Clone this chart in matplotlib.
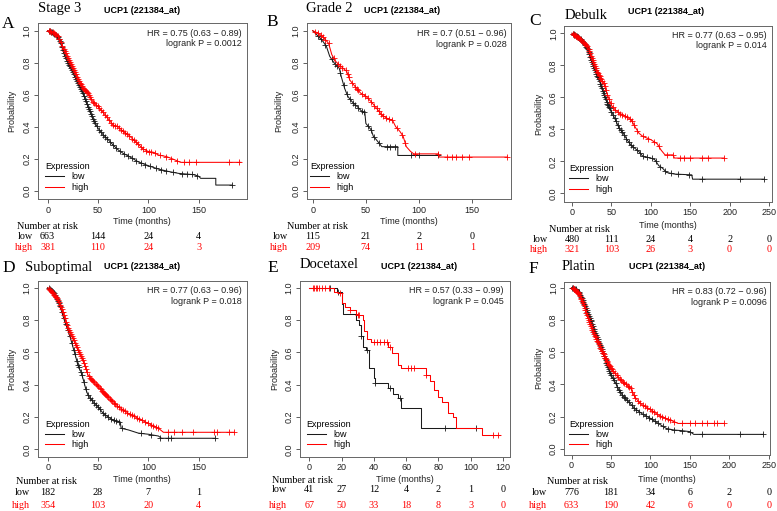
import numpy as np
import matplotlib
matplotlib.use('Agg')
import matplotlib.pyplot as plt
from matplotlib.transforms import blended_transform_factory

plt.rcParams['font.family'] = 'Liberation Sans'

W, H = 777, 511
RED = '#ff0000'
DARK = '#1a1a1a'
SERIF = 'Liberation Serif'
GENE = 'UCP1 (221384_at)'
yticks = [0.0, 0.2, 0.4, 0.6, 0.8, 1.0]

# ---- A: Stage 3
a_low_t = [0, 5, 10, 13, 17, 20, 25, 30, 35, 40, 45, 50, 55, 60, 65, 70, 75, 80, 90, 100, 110, 120, 130, 145, 150, 152, 167, 167, 183]
a_low_s = [1.0, 0.99, 0.96, 0.92, 0.84, 0.80, 0.74, 0.67, 0.61, 0.525, 0.45, 0.39, 0.35, 0.32, 0.285, 0.255, 0.233, 0.217, 0.18, 0.156, 0.135, 0.12, 0.108, 0.10, 0.09, 0.077, 0.077, 0.035, 0.035]
a_low_cens = [1, 2, 3, 4.5, 5.5, 6.5, 8, 9, 10, 11, 12, 13, 14, 15, 16, 17, 18, 19, 20, 21, 22, 23, 24, 25, 26,
              27, 28, 29, 30, 31, 32, 33, 34, 35, 36, 37, 38, 39, 40, 41, 42, 43, 44, 45, 46, 47.5, 49, 51, 53,
              55, 57, 59, 62, 65, 68, 72, 76, 80, 84, 88, 93, 97, 102, 108, 113, 118, 124, 133, 138, 143, 148, 183]
a_high_t = [0, 5, 10, 15, 20, 25, 30, 35, 40, 45, 50, 55, 60, 65, 70, 75, 80, 85, 90, 95, 100, 105, 110, 118, 125, 132, 192]
a_high_s = [1.0, 0.99, 0.965, 0.9, 0.83, 0.765, 0.70, 0.64, 0.61, 0.555, 0.525, 0.49, 0.45, 0.41, 0.40, 0.37, 0.35, 0.32, 0.29, 0.26, 0.245, 0.24, 0.223, 0.213, 0.196, 0.177, 0.177]
a_high_cens = [1.5, 2.5, 3.5, 5, 6, 7, 8.5, 10, 11.5, 13, 14.5, 16, 17, 18, 19, 20, 21, 22, 23, 24, 25, 26, 27,
               28, 29, 30, 31, 32, 33, 34, 35, 36, 37, 38, 39, 40, 41, 42, 43.5, 45, 46.5, 48, 49.5, 51, 53, 55,
               57, 59, 61, 63, 65, 67, 69, 71, 73, 75, 77, 79, 81, 84, 86, 88, 90, 93, 95, 98, 101, 103, 107,
               112, 118, 123, 128, 135, 140, 147, 180, 190]
a_xticks = [0, 50, 100, 150]
a_risk_low = [663, 144, 24, 4]
a_risk_high = [381, 110, 24, 3]

# ---- B: Grade 2
b_low_t = [0, 3, 6, 10, 13, 16, 20, 25, 27, 30, 33, 37, 42, 47, 49, 50, 55, 57, 60, 65, 80, 80, 118]
b_low_s = [1.0, 0.98, 0.96, 0.93, 0.90, 0.84, 0.80, 0.765, 0.71, 0.64, 0.59, 0.556, 0.525, 0.49, 0.49, 0.42, 0.38, 0.34, 0.317, 0.275, 0.275, 0.22, 0.22]
b_low_cens = [5, 8, 12, 18, 21, 23, 26, 29, 32, 35, 38, 40, 43, 46, 48, 52, 55, 58, 62, 70, 73, 77, 92, 100, 118]
b_high_t = [0, 5, 10, 15, 18, 22, 27, 32, 35, 40, 45, 50, 55, 60, 65, 70, 75, 78, 82, 85, 88, 92, 95, 118, 119, 183]
b_high_s = [1.0, 0.985, 0.96, 0.92, 0.85, 0.805, 0.775, 0.745, 0.69, 0.65, 0.61, 0.59, 0.556, 0.515, 0.473, 0.452, 0.44, 0.40, 0.37, 0.34, 0.275, 0.245, 0.23, 0.23, 0.21, 0.21]
b_high_cens = [2, 5, 8, 10, 12, 15, 20, 24, 26, 28, 31, 33, 34, 37, 40, 42, 43, 46, 49, 52, 55, 58, 60, 62, 64,
               66, 69, 72, 75, 79, 84, 87, 96, 118, 126, 131, 135, 140, 147, 183]
b_xticks = [0, 50, 100, 150]
b_risk_low = [115, 21, 2, 0]
b_risk_high = [209, 74, 11, 1]

# ---- C: Debulk
c_low_t = [0, 10, 15, 20, 25, 30, 35, 40, 45, 50, 55, 60, 65, 70, 75, 80, 85, 90, 100, 105, 110, 115, 120, 130, 152, 153, 243]
c_low_s = [1.0, 0.97, 0.94, 0.9, 0.82, 0.76, 0.70, 0.625, 0.56, 0.51, 0.46, 0.405, 0.375, 0.333, 0.30, 0.28, 0.26, 0.23, 0.22, 0.21, 0.173, 0.156, 0.13, 0.12, 0.115, 0.088, 0.088]
c_low_cens = [1, 2, 3, 4, 5, 6, 7, 8, 9, 11, 12, 13, 14, 16, 17, 18, 19, 20, 21, 22, 23, 24, 25, 26, 27, 28, 29,
              30, 31, 32, 33, 34, 35, 36, 37, 38, 39, 40, 41, 42, 43, 44, 45, 46, 47, 48, 50, 52, 54, 56, 58, 60,
              62, 64, 66, 69, 72, 75, 78, 82, 86, 90, 95, 101, 106, 112, 118, 125, 135, 148, 165, 213, 243]
c_high_t = [0, 10, 15, 20, 25, 30, 35, 40, 45, 50, 55, 60, 65, 70, 75, 80, 85, 90, 95, 100, 108, 113, 118, 128, 130, 193]
c_high_s = [1.0, 0.965, 0.94, 0.917, 0.845, 0.78, 0.73, 0.69, 0.615, 0.55, 0.52, 0.50, 0.49, 0.475, 0.46, 0.415, 0.375, 0.355, 0.345, 0.335, 0.31, 0.27, 0.24, 0.24, 0.22, 0.22]
c_high_cens = [1.5, 2.5, 3.5, 4.5, 5.5, 6.5, 7.5, 9, 10.5, 12, 13.5, 15, 16.5, 18, 19.5, 21, 22, 23, 24, 25,
               26, 27, 28, 29, 30, 31, 32, 33, 34, 35, 36, 37, 38.5, 40, 41.5, 43, 45, 47, 49, 52, 55, 58, 61,
               64, 67, 70, 73, 76, 79, 83, 90, 97, 104, 110, 120, 128, 137, 142, 150, 165, 172, 193]
c_xticks = [0, 50, 100, 150, 200, 250]
c_risk_low = [480, 111, 24, 4, 2, 0]
c_risk_high = [321, 103, 26, 3, 0, 0]

# ---- D: Suboptimal
d_low_t = [0, 5, 10, 13, 17, 20, 23, 25, 28, 30, 33, 35, 38, 40, 45, 50, 55, 60, 65, 72, 73, 80, 90, 100, 110, 113, 166]
d_low_s = [1.0, 0.975, 0.92, 0.87, 0.79, 0.74, 0.68, 0.635, 0.57, 0.52, 0.48, 0.44, 0.37, 0.336, 0.295, 0.264, 0.223, 0.20, 0.18, 0.17, 0.13, 0.12, 0.10, 0.093, 0.082, 0.068, 0.068]
d_low_cens = [1, 2, 3, 4, 5, 6, 7, 8, 9, 10, 11, 12, 14, 16, 18, 20, 22, 24, 26, 27, 29, 30, 31, 33, 34, 36,
              38, 40, 42, 44, 46, 48, 50, 52, 55, 57, 60, 63, 66, 68, 71, 74, 93, 103, 112, 120, 123, 166]
d_high_t = [0, 5, 10, 15, 20, 25, 30, 35, 40, 45, 50, 55, 60, 65, 70, 75, 80, 90, 100, 110, 115, 185]
d_high_s = [1.0, 0.965, 0.925, 0.85, 0.75, 0.69, 0.615, 0.553, 0.46, 0.42, 0.39, 0.357, 0.326, 0.295, 0.264, 0.244, 0.223, 0.19, 0.16, 0.13, 0.105, 0.105]
d_high_cens = [1, 2, 3, 4, 5, 6, 7, 8, 9, 10, 11, 12, 13, 14, 15, 16, 17, 18, 19, 20, 21, 22, 23, 24, 25, 26,
               27, 28, 29, 30, 31, 32, 33, 34, 35, 36, 37, 38, 39, 41, 42, 43, 44, 45, 46, 48, 49, 50, 52, 53,
               54, 55, 56, 57, 58, 59, 60, 62, 63, 64, 66, 67, 69, 71, 73, 75, 77, 79, 82, 84, 86, 89, 91, 94,
               97, 100, 103, 105, 108, 110, 120, 125, 133, 144, 165, 168, 180, 185]
d_xticks = [0, 50, 100, 150]
d_risk_low = [182, 28, 7, 1]
d_risk_high = [354, 103, 20, 4]

# ---- E: Docetaxel (step curves)
e_low_t = [0, 17, 20, 21, 29, 31, 32, 33, 35, 37, 40, 41, 49, 52, 55, 57, 69, 103]
e_low_s = [1.0, 0.97, 0.9, 0.84, 0.8, 0.77, 0.70, 0.635, 0.615, 0.5, 0.44, 0.41, 0.378, 0.345, 0.315, 0.253, 0.13, 0.13]
e_low_cens = [13, 18, 32, 36, 41, 50, 56, 84, 103]
e_high_t = [0, 15, 18, 20, 22, 25, 29, 30, 33, 34, 36, 38, 49, 51, 55, 57, 72, 75, 77, 80, 82, 86, 89, 91, 107, 118]
e_high_s = [1.0, 0.975, 0.965, 0.905, 0.88, 0.86, 0.84, 0.83, 0.80, 0.73, 0.68, 0.665, 0.635, 0.595, 0.52, 0.5, 0.46, 0.42, 0.367, 0.326, 0.295, 0.223, 0.2, 0.13, 0.09, 0.09]
e_high_cens = [2, 3, 4, 5, 6, 8, 10, 12, 19, 25, 30, 31, 40, 42, 44, 46, 48, 50, 61, 63, 65, 72, 114, 117]
e_xticks = [0, 20, 40, 60, 80, 100, 120]
e_risk_low = [41, 27, 12, 4, 2, 1, 0]
e_risk_high = [67, 50, 33, 18, 8, 3, 0]

# ---- F: Platin
f_low_t = [0, 5, 10, 15, 20, 25, 30, 35, 40, 45, 50, 55, 60, 65, 70, 75, 80, 90, 100, 110, 120, 130, 140, 150, 155, 243]
f_low_s = [1.0, 0.99, 0.965, 0.913, 0.85, 0.79, 0.716, 0.655, 0.592, 0.52, 0.458, 0.416, 0.364, 0.329, 0.302, 0.277, 0.25, 0.215, 0.188, 0.157, 0.126, 0.116, 0.112, 0.106, 0.089, 0.089]
f_low_cens = [1, 2, 3, 4, 5, 6, 7, 8, 9, 10, 11, 12, 13, 14, 15, 16, 17, 18, 19, 20, 21, 22, 23, 24, 25, 26, 27,
              28, 29, 30, 31, 32, 33, 34, 35, 36, 37, 38, 39, 40, 41, 42, 43, 44, 45, 46, 47, 48, 49, 50, 52, 54,
              56, 58, 60, 62, 64, 66, 68, 70, 73, 76, 79, 82, 86, 90, 94, 98, 102, 106, 110, 116, 122, 130, 140,
              150, 165, 213, 243]
f_high_t = [0, 5, 10, 15, 20, 25, 30, 35, 40, 45, 50, 55, 60, 65, 70, 75, 80, 85, 90, 100, 110, 120, 130, 135, 193]
f_high_s = [1.0, 0.985, 0.955, 0.90, 0.82, 0.758, 0.696, 0.644, 0.592, 0.54, 0.5, 0.468, 0.437, 0.416, 0.395, 0.375, 0.323, 0.292, 0.271, 0.244, 0.209, 0.188, 0.168, 0.157, 0.157]
f_high_cens = [1.5, 2.5, 3.5, 4.5, 5.5, 6.5, 7.5, 8.5, 9.5, 10.5, 11.5, 12.5, 13.5, 14.5, 15.5, 16.5, 17.5, 18.5,
               19.5, 20.5, 21.5, 22.5, 23.5, 24.5, 25.5, 26.5, 27.5, 28.5, 29.5, 30.5, 31.5, 32.5, 33.5, 34.5,
               35.5, 36.5, 37.5, 38.5, 39.5, 40.5, 41.5, 42.5, 43.5, 44.5, 45.5, 46.5, 47.5, 48.5, 49.5, 51, 53,
               55, 57, 59, 61, 63, 65, 67, 69, 71, 73, 75, 77, 79, 81, 84, 87, 90, 93, 96, 99, 102, 105, 108,
               112, 115, 118, 122, 125, 130, 140, 150, 157, 165, 172, 180, 184, 193]
f_xticks = [0, 50, 100, 150, 200, 250]
f_risk_low = [776, 181, 34, 6, 2, 0]
f_risk_high = [633, 190, 42, 6, 0, 0]

panels = [
    dict(letter='A', title='Stage 3', hr='HR = 0.75 (0.63 − 0.89)', p='logrank P = 0.0012',
         low=(a_low_t, a_low_s, a_low_cens), high=(a_high_t, a_high_s, a_high_cens),
         xticks=a_xticks, risk=(a_risk_low, a_risk_high), steps=False),
    dict(letter='B', title='Grade 2', hr='HR = 0.7 (0.51 − 0.96)', p='logrank P = 0.028',
         low=(b_low_t, b_low_s, b_low_cens), high=(b_high_t, b_high_s, b_high_cens),
         xticks=b_xticks, risk=(b_risk_low, b_risk_high), steps=False),
    dict(letter='C', title='Debulk', hr='HR = 0.77 (0.63 − 0.95)', p='logrank P = 0.014',
         low=(c_low_t, c_low_s, c_low_cens), high=(c_high_t, c_high_s, c_high_cens),
         xticks=c_xticks, risk=(c_risk_low, c_risk_high), steps=False),
    dict(letter='D', title='Suboptimal', hr='HR = 0.77 (0.63 − 0.96)', p='logrank P = 0.018',
         low=(d_low_t, d_low_s, d_low_cens), high=(d_high_t, d_high_s, d_high_cens),
         xticks=d_xticks, risk=(d_risk_low, d_risk_high), steps=False),
    dict(letter='E', title='Docetaxel', hr='HR = 0.57 (0.33 − 0.99)', p='logrank P = 0.045',
         low=(e_low_t, e_low_s, e_low_cens), high=(e_high_t, e_high_s, e_high_cens),
         xticks=e_xticks, risk=(e_risk_low, e_risk_high), steps=True),
    dict(letter='F', title='Platin', hr='HR = 0.83 (0.72 − 0.96)', p='logrank P = 0.0096',
         low=(f_low_t, f_low_s, f_low_cens), high=(f_high_t, f_high_s, f_high_cens),
         xticks=f_xticks, risk=(f_risk_low, f_risk_high), steps=False),
]

# layout in pixels of the 777x511 image
layout = {
    'A': dict(box=(37.7, 23.3, 246.7, 199.3), xlim=(-9.9, 197.7), ylim=(-0.054, 1.046),
              letter=(8.3, 28.3), title=(38.3, 11.7), gene=(104, 12.7), hr=(241.7, 33),
              time_y=221.7, prob_x=12, leg=(45, 162), nar=(17.3, 226.7), lab_x=33.3, rows=(236.7, 247.3)),
    'B': dict(box=(306.7, 23.3, 510.5, 199.3), xlim=(-5.6, 185.9), ylim=(-0.054, 1.046),
              letter=(272, 26), title=(306, 11.7), gene=(364.3, 12.7), hr=(506.7, 33.3),
              time_y=221.7, prob_x=278.3, leg=(310, 162), nar=(287.3, 226.7), lab_x=288.3, rows=(236.7, 247.3)),
    'C': dict(box=(564.3, 25.9, 771.7, 201.9), xlim=(-9.8, 253.4), ylim=(-0.054, 1.046),
              letter=(535, 25), title=(565, 19.3), gene=(628.3, 14), hr=(766.7, 35),
              time_y=225, prob_x=538.3, leg=(569.3, 164), nar=(549.3, 229.3), lab_x=548.3, rows=(240, 250)),
    'D': dict(box=(37.7, 280.7, 246.7, 456.7), xlim=(-9.9, 197.7), ylim=(-0.046, 1.043),
              letter=(8.3, 271.7), title=(25, 270.7), gene=(104, 269.3), hr=(241.7, 290.7),
              time_y=480, prob_x=11.7, leg=(45, 419.7), nar=(16, 482), lab_x=30, rows=(492.3, 505)),
    'E': dict(box=(300, 280.7, 510, 456.7), xlim=(-5.75, 124.3), ylim=(-0.046, 1.043),
              letter=(272.5, 271.7), title=(300, 268.3), gene=(380.7, 269.3), hr=(503.3, 290.7),
              time_y=480, prob_x=275, leg=(306.7, 419.7), nar=(271.7, 480.7), lab_x=287, rows=(490, 505)),
    'F': dict(box=(564.3, 281.7, 770, 455), xlim=(-9.25, 251.6), ylim=(-0.039, 1.037),
              letter=(533.5, 272.7), title=(561.7, 270), gene=(629, 269.3), hr=(766.7, 291.7),
              time_y=480, prob_x=538.3, leg=(569.3, 419.7), nar=(546.7, 482), lab_x=546.7, rows=(492.3, 505)),
}


def fx(px):
    return px / W


def fy(py):
    return 1 - py / H


fig = plt.figure(figsize=(W / 100, H / 100), dpi=100)

for p in panels:
    L = layout[p['letter']]
    l, t, r, b = L['box']
    ax = fig.add_axes([fx(l), fy(b), (r - l) / W, (b - t) / H])

    handles = []
    for (tt, ss, cc), col, lab in ((p['low'], DARK, 'low'), (p['high'], RED, 'high')):
        tt, ss, cc = np.array(tt, float), np.array(ss, float), np.array(cc, float)
        if p['steps']:
            ln, = ax.plot(tt, ss, drawstyle='steps-post', color=col, lw=0.75, label=lab)
            cy = ss[np.searchsorted(tt, cc, side='right') - 1]
        else:
            ln, = ax.plot(tt, ss, color=col, lw=0.75, label=lab)
            cy = np.interp(cc, tt, ss)
        ax.plot(cc, cy, ls='none', marker='+', ms=3.8, mew=0.6, color=col)
        handles.append(ln)

    ax.set_xlim(L['xlim'])
    ax.set_ylim(L['ylim'])
    ax.set_xticks(p['xticks'])
    ax.set_xticklabels([str(v) for v in p['xticks']])
    ax.set_yticks(yticks)
    ax.set_yticklabels([f'{v:.1f}' for v in yticks], rotation=90, va='center')
    ax.tick_params(direction='out', length=3, width=0.6, labelsize=6.5, pad=1.5,
                   color='#444444', labelcolor='#222222')
    for sp in ax.spines.values():
        sp.set_color('#666666')
        sp.set_linewidth(0.7)

    ax.legend(handles=handles, title='Expression', loc='upper left',
              bbox_to_anchor=(fx(L['leg'][0]), fy(L['leg'][1])), bbox_transform=fig.transFigure,
              frameon=False, fontsize=6.5, title_fontsize=6.5, handlelength=2.1,
              handletextpad=0.8, labelspacing=0.15, borderpad=0, borderaxespad=0,
              alignment='left')

    # annotations
    hx, hy = L['hr']
    fig.text(fx(hx), fy(hy), p['hr'], ha='right', va='center', fontsize=6.5, color='#222222')
    fig.text(fx(hx), fy(hy + 11), p['p'], ha='right', va='center', fontsize=6.5, color='#222222')
    fig.text(fx((l + r) / 2), fy(L['time_y']), 'Time (months)', ha='center', va='center',
             fontsize=6.5, color='#222222')
    fig.text(fx(L['prob_x']), fy((t + b) / 2), 'Probability', rotation=90, ha='center', va='center',
             fontsize=6.5, color='#222222')

    fig.text(fx(L['letter'][0]), fy(L['letter'][1]), p['letter'], family=SERIF, fontsize=12.5,
             ha='center', va='baseline')
    fig.text(fx(L['title'][0]), fy(L['title'][1]), p['title'], family=SERIF, fontsize=10.5,
             ha='left', va='baseline')
    fig.text(fx(L['gene'][0]), fy(L['gene'][1]), GENE, fontsize=6.5, fontweight='bold',
             ha='left', va='baseline')

    # number at risk table
    fig.text(fx(L['nar'][0]), fy(L['nar'][1]), 'Number at risk', family=SERIF, fontsize=7.3,
             ha='left', va='center')
    trans = blended_transform_factory(ax.transData, fig.transFigure)
    for row_y, lab, vals, col in ((L['rows'][0], 'low', p['risk'][0], 'black'),
                                  (L['rows'][1], 'high', p['risk'][1], RED)):
        fig.text(fx(L['lab_x']), fy(row_y), lab, family=SERIF, fontsize=7.3, color=col,
                 ha='right', va='center')
        for xv, v in zip(p['xticks'], vals):
            ax.text(xv, fy(row_y), str(v), transform=trans, family=SERIF, fontsize=7.3,
                    color=col, ha='center', va='center', clip_on=False)

fig.savefig('out.png', dpi=100)
